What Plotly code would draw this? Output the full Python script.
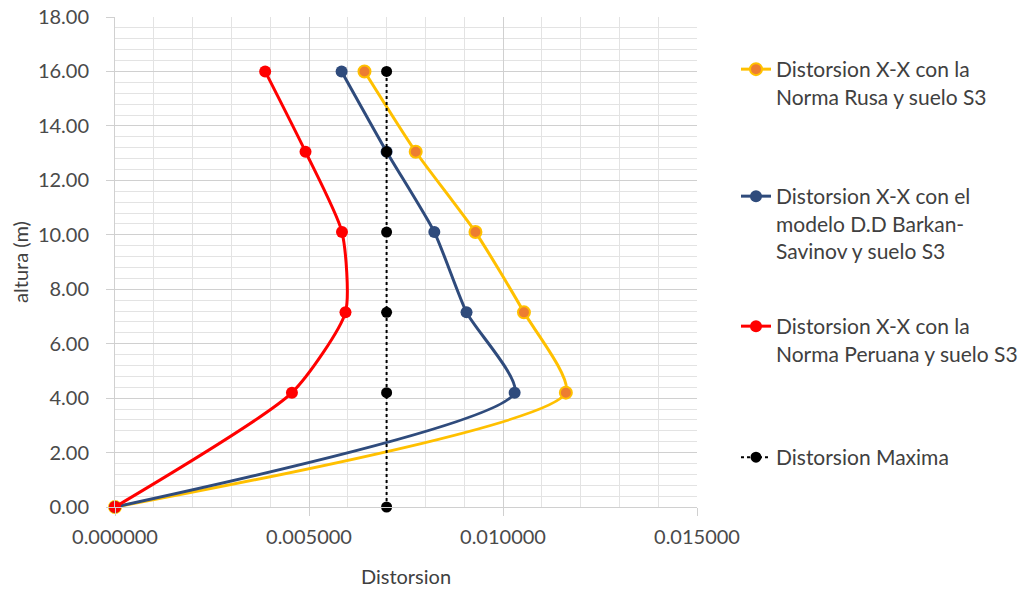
import plotly.graph_objects as go

# Storey heights (m) and interstorey drift per model
altura = [0.0, 4.2, 7.15, 10.1, 13.05, 16.0]
dist_rusa = [0.0, 0.01162, 0.01054, 0.00929, 0.00775, 0.00643]
dist_barkan = [0.0, 0.01030, 0.00906, 0.00823, 0.00700, 0.00584]
dist_peruana = [0.0, 0.00456, 0.00594, 0.00585, 0.00491, 0.00387]
dist_maxima = [0.007, 0.007, 0.007, 0.007, 0.007, 0.007]

nombres = [
    "Distorsion X-X con la<br>Norma Rusa y suelo S3",
    "Distorsion X-X con el<br>modelo D.D Barkan-<br>Savinov y suelo S3",
    "Distorsion X-X con la<br>Norma Peruana y suelo S3",
    "Distorsion Maxima",
]

FONT = "Lato"
TXT = "#404040"
TICK = "#4A4A4A"
SMOOTH = 0.6

fig = go.Figure()

fig.add_trace(go.Scatter(
    x=dist_rusa, y=altura, name=nombres[0], mode="lines+markers",
    line=dict(color="#FFC000", width=3, shape="spline", smoothing=SMOOTH),
    marker=dict(color="#ED7D31", size=12, line=dict(color="#FFC000", width=2)),
    legend="legend", cliponaxis=False,
))
fig.add_trace(go.Scatter(
    x=dist_barkan, y=altura, name=nombres[1], mode="lines+markers",
    line=dict(color="#2F4B7C", width=3, shape="spline", smoothing=SMOOTH),
    marker=dict(color="#2F4B7C", size=12),
    legend="legend2", cliponaxis=False,
))
fig.add_trace(go.Scatter(
    x=dist_peruana, y=altura, name=nombres[2], mode="lines+markers",
    line=dict(color="#FF0000", width=3, shape="spline", smoothing=SMOOTH),
    marker=dict(color="#FF0000", size=12),
    legend="legend3", cliponaxis=False,
))
fig.add_trace(go.Scatter(
    x=dist_maxima, y=altura, name=nombres[3], mode="lines+markers",
    line=dict(color="#000000", width=2, dash="dot"),
    marker=dict(color="#000000", size=11),
    legend="legend4", cliponaxis=False,
))

def paper_y(py):
    # pixel row -> paper fraction for the plot area spanning rows 17..507
    return (507 - py) / 490.0

LEG_X = 1.067
leg_common = dict(
    xanchor="left", yanchor="top", valign="top",
    font=dict(family=FONT, size=21, color=TXT),
    bgcolor="rgba(0,0,0,0)", itemwidth=30,
)
fig.update_layout(
    legend=dict(x=LEG_X, y=paper_y(49), **leg_common),
    legend2=dict(x=LEG_X, y=paper_y(176), **leg_common),
    legend3=dict(x=LEG_X, y=paper_y(306), **leg_common),
    legend4=dict(x=LEG_X, y=paper_y(437), **leg_common),
)

grid_major = "#D0D0D0"
grid_minor = "#E3E3E3"

fig.update_xaxes(
    range=[0, 0.015], dtick=0.005, tick0=0, tickformat=".6f",
    showgrid=True, gridcolor=grid_major, gridwidth=1,
    minor=dict(dtick=0.001, showgrid=True, gridcolor=grid_minor, gridwidth=1),
    ticks="outside", ticklen=8, tickcolor=grid_major, ticklabelstandoff=4,
    showline=True, linecolor=grid_major, zeroline=False, automargin=False,
    tickfont=dict(family=FONT, size=20, color=TICK),
    title=dict(text="Distorsion", font=dict(family=FONT, size=20, color=TXT), standoff=22),
)
fig.update_yaxes(
    range=[0, 18], dtick=2, tick0=0, tickformat=".2f",
    showgrid=True, gridcolor=grid_major, gridwidth=1,
    minor=dict(dtick=0.4, showgrid=True, gridcolor=grid_minor, gridwidth=1),
    ticks="outside", ticklen=8, tickcolor=grid_major, ticklabelstandoff=13,
    showline=True, linecolor=grid_major, zeroline=False, automargin=False,
    tickfont=dict(family=FONT, size=20, color=TICK),
    title=dict(text="altura (m)", font=dict(family=FONT, size=20, color=TXT), standoff=3),
)

fig.update_layout(
    width=1035, height=592,
    margin=dict(l=115, r=335, t=17, b=85),
    paper_bgcolor="white", plot_bgcolor="white",
    font=dict(family=FONT),
    showlegend=True,
)

fig.write_html("out.html")
